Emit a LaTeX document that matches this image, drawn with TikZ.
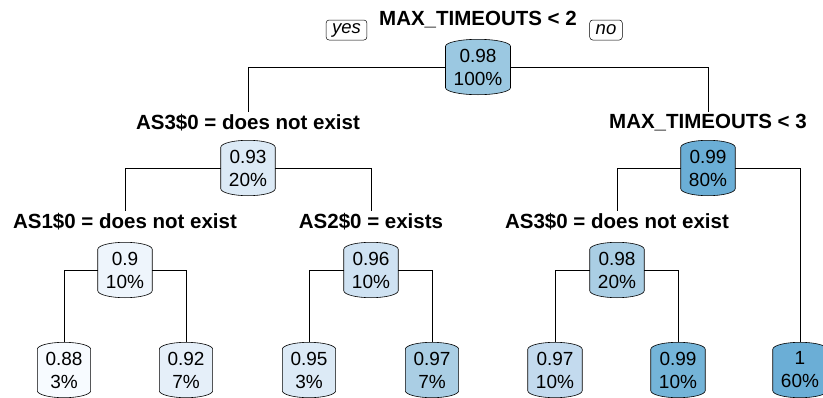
\documentclass[tikz,border=0pt]{standalone}
\usepackage{fontspec}
\setmainfont{Liberation Sans}
\usepackage{tikz}
\usetikzlibrary{positioning, calc, backgrounds}

\definecolor{b0}{RGB}{247,251,255}
\definecolor{b1}{RGB}{238,245,252}
\definecolor{b2}{RGB}{229,239,249}
\definecolor{b3}{RGB}{220,234,246}
\definecolor{b4}{RGB}{207,226,242}
\definecolor{b5}{RGB}{195,218,238}
\definecolor{b6}{RGB}{170,206,228}
\definecolor{b7}{RGB}{155,200,225}
\definecolor{b8}{RGB}{116,180,216}
\definecolor{b9}{RGB}{107,174,214}

% rounded "barrel" outline behind a node
\newcommand{\barrel}[2]{%
	\path[draw, line width=0.6pt, fill=#2]
		let \p1=(#1.north west), \p2=(#1.south east), \n1={(\x2-\x1)/2} in
		(\x1,\y1-7pt) arc[start angle=180, end angle=0, x radius=\n1, y radius=7pt]
		-- (\x2,\y2+7pt) arc[start angle=0, end angle=-180, x radius=\n1, y radius=7pt]
		-- cycle;}

\begin{document}
\begin{tikzpicture}[x=1pt, y=-1pt,
	box/.style={align=center, inner xsep=8pt, inner ysep=2pt, minimum height=55pt,
		font=\fontsize{19}{23}\selectfont},
	split/.style={font=\fontsize{20.5}{24}\selectfont\bfseries, inner sep=2pt},
	yesno/.style={draw, line width=0.5pt, rounded corners=3pt, inner xsep=6pt, inner ysep=0pt,
		minimum height=20pt, font=\itshape\fontsize{18.5}{20}\selectfont},
	edge/.style={line width=0.6pt}]
	
	\useasboundingbox (0,0) rectangle (823,397);
	\clip (0,0) rectangle (823,397);
	
	% split labels
	\node[split] 	(s0) 	at (478,20) 	{MAX\_TIMEOUTS < 2};
	\node[yesno] 	(yes) 	at (346.5,30) 	{yes};
	\node[yesno] 	(no) 	at (606,30) 	{no};
	\node[split] 	(s1) 	at (248,123) 	{AS3\$0 = does not exist};
	\node[split] 	(s2) 	at (708,123) 	{MAX\_TIMEOUTS < 3};
	\node[split] 	(s3) 	at (125,222) 	{AS1\$0 = does not exist};
	\node[split] 	(s4) 	at (371,222) 	{AS2\$0 = exists};
	\node[split] 	(s5) 	at (617,222) 	{AS3\$0 = does not exist};
	
	% inner nodes
	\node[box] 	(n0) 	at (478,67) 	{0.98\\100\%};
	\node[box] 	(n1) 	at (248,168) 	{0.93\\20\%};
	\node[box] 	(n2) 	at (708,168) 	{0.99\\80\%};
	\node[box] 	(n3) 	at (125,270) 	{0.9\\10\%};
	\node[box] 	(n4) 	at (371,270) 	{0.96\\10\%};
	\node[box] 	(n5) 	at (617,270) 	{0.98\\20\%};
	
	% leaves
	\node[box] 	(l1) 	at (64,370) 	{0.88\\3\%};
	\node[box] 	(l2) 	at (186,370) 	{0.92\\7\%};
	\node[box] 	(l3) 	at (309,370) 	{0.95\\3\%};
	\node[box] 	(l4) 	at (432,370) 	{0.97\\7\%};
	\node[box] 	(l5) 	at (555,370) 	{0.97\\10\%};
	\node[box] 	(l6) 	at (678,370) 	{0.99\\10\%};
	\node[box] 	(l7) 	at (800,370) 	{1\\60\%};
	
	\begin{scope}[on background layer]
		\foreach \nd/\cl in {n0/b7, n1/b3, n2/b9, n3/b1, n4/b4, n5/b6,
			l1/b0, l2/b2, l3/b3, l4/b6, l5/b5, l6/b8, l7/b9}
			\barrel{\nd}{\cl};
	\end{scope}
	
	\draw[edge] (n0.west) -| (s1.north);
	\draw[edge] (n0.east) -| (s2.north);
	\draw[edge] (n1.west) -| (s3.north);
	\draw[edge] (n1.east) -| (s4.north);
	\draw[edge] (n2.west) -| (s5.north);
	\draw[edge] (n2.east) -| (l7.north);
	\draw[edge] (n3.west) -| (l1.north);
	\draw[edge] (n3.east) -| (l2.north);
	\draw[edge] (n4.west) -| (l3.north);
	\draw[edge] (n4.east) -| (l4.north);
	\draw[edge] (n5.west) -| (l5.north);
	\draw[edge] (n5.east) -| (l6.north);
\end{tikzpicture}
\end{document}
